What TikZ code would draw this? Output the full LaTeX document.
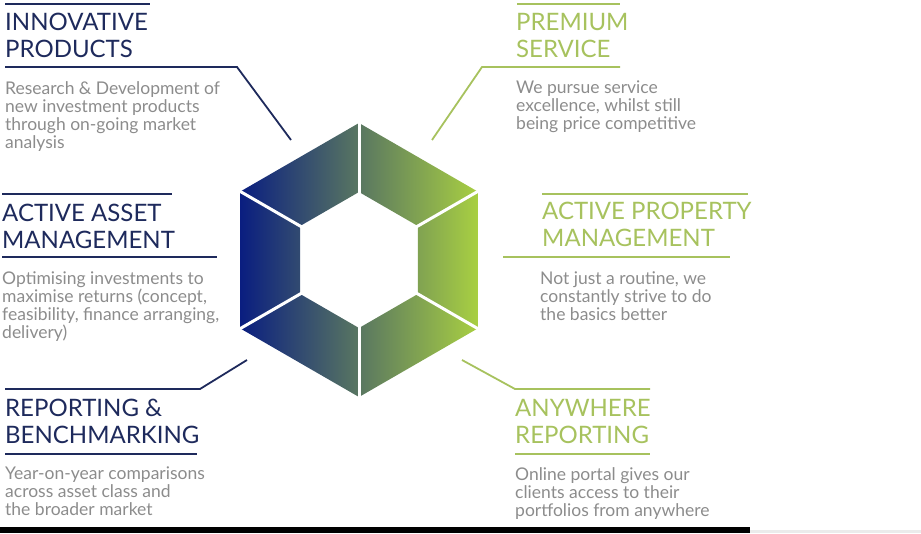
\documentclass[tikz,border=0pt]{standalone}
\usepackage{fontspec}
\setmainfont{Lato}
\usetikzlibrary{positioning}
\definecolor{navy}{HTML}{1E2A5C}
\definecolor{lime}{HTML}{A7C25E}
\definecolor{bodygray}{HTML}{8C8C8C}
\definecolor{hexnavy}{HTML}{0A1E80}
\definecolor{hexlime}{HTML}{A8CF42}
\tikzset{
  head/.style={anchor=north west,inner sep=0pt,align=left,font=\fontsize{24}{27}\selectfont},
  body/.style={anchor=north west,inner sep=0pt,align=left,text=bodygray,font=\fontsize{17.5}{18}\selectfont},
  rule/.style={line width=1.8pt}
}

\begin{document}
\begin{tikzpicture}[x=1pt,y=-1pt]
\useasboundingbox (0,0) rectangle (921,533);
% hexagon
\coordinate (hex) at (359,260);
\shade[left color=hexnavy,right color=hexlime,even odd rule]
  (hex) +(30:137) -- +(90:137) -- +(150:137) -- +(210:137) -- +(270:137) -- +(330:137) -- cycle
  (hex) +(30:68) -- +(90:68) -- +(150:68) -- +(210:68) -- +(270:68) -- +(330:68) -- cycle;
\foreach \a in {30,90,...,330}
  \draw[white,line width=3pt] (hex) +(\a:64) -- +(\a:142);

% left side
\node[head,text=navy] (ip) at (5,13) {INNOVATIVE\\PRODUCTS};
\node[body] (ipt) at (5,81) {Research \& Development of\\new investment products\\through on-going market\\analysis};
\node[head,text=navy] (aa) at (2,204) {ACTIVE ASSET\\MANAGEMENT};
\node[body] (aat) at (2,271) {Optimising investments to\\maximise returns (concept,\\feasibility, finance arranging,\\delivery)};
\node[head,text=navy] (rb) at (5,399) {REPORTING \&\\BENCHMARKING};
\node[body] (rbt) at (5,467) {Year-on-year comparisons\\across asset class and\\the broader market};

% right side
\node[head,text=lime] (ps) at (516,13) {PREMIUM\\SERVICE};
\node[body] (pst) at (516,81) {We pursue service\\excellence, whilst still\\being price competitive};
\node[head,text=lime] (ap) at (542,202) {ACTIVE PROPERTY\\MANAGEMENT};
\node[body] (apt) at (540,271) {Not just a routine, we\\constantly strive to do\\the basics better};
\node[head,text=lime] (ar) at (515,399) {ANYWHERE\\REPORTING};
\node[body] (art) at (515,467) {Online portal gives our\\clients access to their\\portfolios from anywhere};

% rules and leaders
\coordinate (ip-bend) at (237,67);
\coordinate (ip-tip) at (291,140);
\coordinate (ps-bend) at (482,67);
\coordinate (ps-tip) at (432,140);
\coordinate (rb-bend) at (200,389);
\coordinate (rb-tip) at (247,360);
\coordinate (ar-bend) at (515,389);
\coordinate (ar-tip) at (462,360);

\draw[rule,navy] (5,4) -- (150,4);
\draw[rule,navy] (5,67) -- (ip-bend) -- (ip-tip);
\draw[rule,navy] (2,194) -- (172,194);
\draw[rule,navy] (2,257) -- (217,257);
\draw[rule,navy] (5,389) -- (rb-bend) -- (rb-tip);
\draw[rule,navy] (5,454) -- (197,454);

\draw[rule,lime] (517,4) -- (620,4);
\draw[rule,lime] (620,67) -- (ps-bend) -- (ps-tip);
\draw[rule,lime] (542,194) -- (748,194);
\draw[rule,lime] (503,257) -- (730,257);
\draw[rule,lime] (650,389) -- (ar-bend) -- (ar-tip);
\draw[rule,lime] (515,454) -- (650,454);

% bottom bar
\fill[black] (0,527) rectangle (750,533);
\fill[black!8] (750,530) rectangle (921,533);
\end{tikzpicture}
\end{document}
